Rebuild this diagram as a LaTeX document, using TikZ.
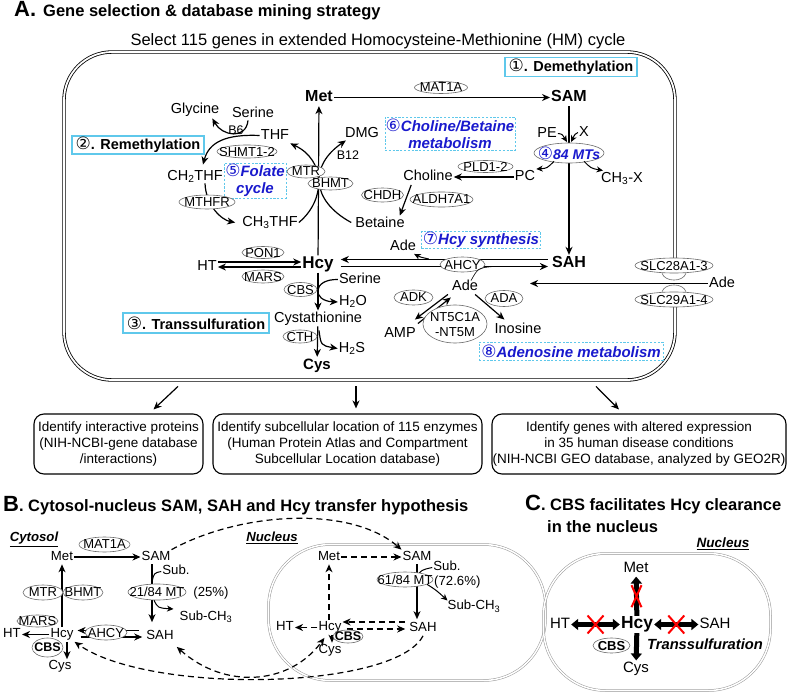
\documentclass[tikz,border=0pt]{standalone}
\usepackage{fontspec}
\setmainfont{Liberation Sans}
\newfontfamily\djvfont{DejaVu Sans}
\usetikzlibrary{arrows.meta,shapes.geometric,calc}
\definecolor{cyanb}{RGB}{95,200,235}
\definecolor{bluet}{RGB}{25,25,205}
\definecolor{ellg}{RGB}{105,105,105}
\definecolor{nucg}{RGB}{150,150,150}
\newcommand\fsz[1]{\fontsize{#1}{#1}\selectfont}
\newcommand\ezt[1]{\makebox[0pt]{\smash{\raisebox{-.5\height}{#1}}}}
\newcommand\circd[1]{{\djvfont\fontsize{17}{17}\selectfont\mdseries\upshape #1}}
\tikzset{
  myst/.tip={Stealth[length=8pt,width=7pt,inset=2.5pt]},
  smst/.tip={Stealth[length=6.5pt,width=6pt,inset=2pt]},
  tri/.tip={Triangle[length=7pt,width=11pt]},
  lab/.style={inner sep=1pt, font=\fsz{14.5}, text height=10.5pt, text depth=3pt},
  labs/.style={inner sep=1pt, font=\fsz{12.5}, text height=9pt, text depth=2.6pt},
  labb/.style={inner sep=1pt, font=\fsz{13.2}, text height=9.6pt, text depth=2.7pt},
  labc/.style={inner sep=1pt, font=\fsz{15}, text height=10.8pt, text depth=3pt},
  big/.style={inner sep=1pt, font=\fsz{16}\bfseries, text height=11.6pt, text depth=3.3pt},
  enz/.style={ellipse, draw=ellg, line width=0.6pt, fill=white, inner sep=0pt, font=\fsz{13}},
  secbox/.style={draw=cyanb, line width=1.1pt, font=\fsz{14.5}\bfseries, inner sep=0pt},
  dbox/.style={draw=cyanb, dash pattern=on 2.2pt off 1.6pt, line width=0.8pt, font=\fontsize{15}{17}\selectfont\bfseries\itshape, text=bluet, align=center, inner sep=0pt},
  obox/.style={draw, rounded corners=10pt, line width=1.1pt, align=center, font=\fontsize{13.5}{16}\selectfont, inner sep=0pt},
  nucl/.style={draw=nucg, double, double distance=1.5pt, line width=0.5pt, rounded corners=62pt, inner sep=0pt},
  arr/.style={-myst, line width=1.2pt},
  sarr/.style={-smst, line width=1pt},
  darr/.style={-myst, line width=1.2pt, dash pattern=on 6pt off 4pt},
  dbarr/.style={myst-myst, line width=1.2pt, dash pattern=on 6pt off 4pt},
  tarr/.style={-tri, line width=5pt},
  tbarr/.style={tri-tri, line width=5pt},
  xmark/.style={red, line width=2pt},
}
\begin{document}
\begin{tikzpicture}[x=1pt,y=-1pt]
\useasboundingbox (0,0) rectangle (788,693);

% ================= Panel A =================
\node[anchor=base west, inner sep=0pt] (titleA) at (14,17) {{\fsz{22}\bfseries A.}\hspace{7pt}{\fsz{16.5}\bfseries Gene selection \& database mining strategy}};
\node[anchor=base, inner sep=0pt, font=\fsz{16.5}] (selt) at (378,46) {Select 115 genes in extended Homocysteine-Methionine (HM) cycle};
\node[draw, double, double distance=1.8pt, line width=0.8pt, rounded corners=48pt, minimum width=611pt, minimum height=328pt, inner sep=0pt] (boxA) at (369.5,216) {};
\fill[white] (668,272) rectangle (682,292);

% section boxes
\node[secbox, minimum width=132pt, minimum height=19pt] (demeth) at (571,67) {\circd{①}. Demethylation};
\node[secbox, minimum width=132pt, minimum height=18pt] (remeth) at (138,145) {\circd{②}. Remethylation};
\node[secbox, minimum width=146pt, minimum height=20pt] (transs) at (196,323) {\circd{③}. Transsulfuration};
\node[dbox, minimum width=130pt, minimum height=33pt] (cholbox) at (450,133.5) {\circd{⑥}Choline/Betaine\\metabolism};
\node[dbox, minimum width=62pt, minimum height=35pt] (folbox) at (255,180.5) {\circd{⑤}Folate\\cycle};
\node[dbox, minimum width=119pt, minimum height=17pt] (hcybox) at (481,240) {\circd{⑦}Hcy synthesis};
\node[dbox, minimum width=184pt, minimum height=18pt] (adebox) at (571,351) {\circd{⑧}Adenosine metabolism};

% metabolites
\node[big] (met) at (319,97.5) {Met};
\node[big] (sam) at (569,97.5) {SAM};
\node[big, font=\fsz{17}\bfseries] (hcy) at (318,264) {Hcy};
\node[big] (sah) at (569,263.5) {SAH};
\node[big, font=\fsz{15}\bfseries] (cys) at (317,365.5) {Cys};
\node[lab] (glycine) at (195,109.5) {Glycine};
\node[lab] (serine) at (253,113.5) {Serine};
\node[labs] (b6) at (236,131.5) {B6};
\node[lab] (thf) at (275,135.5) {THF};
\node[lab] (ch2thf) at (195,176.5) {CH\textsubscript{2}THF};
\node[lab] (ch3thf) at (270,222.5) {CH\textsubscript{3}THF};
\node[lab] (dmg) at (362,133.5) {DMG};
\node[labs] (b12) at (348,156.5) {B12};
\node[lab] (choline) at (428,177) {Choline};
\node[lab] (pc) at (525,177) {PC};
\node[lab] (ch3x) at (622,178.5) {CH\textsubscript{3}-X};
\node[lab] (betaine) at (380,223.5) {Betaine};
\node[lab] (pe) at (547,133.5) {PE};
\node[lab] (xx) at (584,132.5) {X};
\node[lab] (ht) at (207,266.5) {HT};
\node[lab] (ade1) at (403,247) {Ade};
\node[lab] (ade2) at (465,286.5) {Ade};
\node[lab] (ade3) at (722,283.5) {Ade};
\node[lab] (amp) at (400,333.5) {AMP};
\node[lab] (inosine) at (518,329.5) {Inosine};
\node[lab] (serine2) at (360,279.5) {Serine};
\node[lab] (h2o) at (353,302) {H\textsubscript{2}O};
\node[lab] (cysta) at (318,318.5) {Cystathionine};
\node[lab] (h2s) at (352,348.5) {H\textsubscript{2}S};

% connectors A
\draw[arr] (met) -- (sam);
\draw[arr] (hcy) -- (met);
\draw[arr] (sam) -- (sah);
\draw[arr] (pc) -- (choline);
\draw[arr] ($(choline.south west)+(9,0)$) -- ($(betaine.north east)+(-6,0)$);
\draw[arr] (ch3thf.east) .. controls (326,200) and (326,160) .. (thf.south east);
\draw[arr] ($(betaine.west)+(-3,-1)$) .. controls (310,200) and (310,165) .. ($(dmg.south west)+(2,-1)$);
\draw[arr] ($(serine.south)+(-5,-1)$) .. controls (246,140) and (222,136) .. ($(glycine.south east)+(-8,1)$);
\draw[arr] (thf.west) .. controls (226,134) and (209,142) .. ($(ch2thf.north)+(8,-4)$);
\draw[arr] ($(ch2thf.south)+(10,-1)$) .. controls ($(ch2thf.south)+(11,22)$) and (222,220) .. ($(ch3thf.west)+(-6,0)$);
\draw[arr] ($(ht.east)+(0,-4.5)$) -- ($(hcy.west)+(0,-2)$);
\draw[arr] ($(hcy.west)+(0,3)$) -- ($(ht.east)+(0,0.5)$);
\draw[arr] ($(sah.west)+(-3,-4)$) -- ($(hcy.east)+(6,-4.5)$);
\draw[arr] ($(hcy.east)+(6,2.5)$) -- ($(sah.west)+(-3,3)$);
\coordinate (sahin) at (530,283.5);
\draw[arr] (ade3) -- (sahin);
\draw[arr] (hcy) -- (cysta);
\draw[arr] (cysta) -- (cys);
\draw[arr] (serine2.west) .. controls (312,279) and (312,301) .. (h2o.west);
\draw[arr] ($(cysta.south)+(1,4)$) .. controls ($(cysta.south)+(3,19)$) .. (h2s.west);
\draw[sarr] (pe.east) .. controls (562,134) .. (567,142);
\draw[sarr] (xx.west) .. controls (575,134) .. (571,142);
\draw[arr] ($(ade2.south west)+(-3,0)$) -- ($(amp.north east)+(-2,-6)$);
\draw[arr] ($(amp.north east)+(1,-2)$) -- ($(ade2.south west)+(0,3)$);
\draw[arr] ($(ade2.south east)+(-4,0)$) -- ($(inosine.north west)+(11,-2)$);

% enzymes A
\node[enz, minimum width=53pt, minimum height=12pt] (mat1a) at (441,87.5) {\ezt{MAT1A}};
\node[enz, minimum width=60pt, minimum height=13pt] (shmt) at (247,151.5) {\ezt{SHMT1-2}};
\node[enz, minimum width=38pt, minimum height=13pt] (mtr) at (306,171.5) {\ezt{MTR}};
\node[enz, minimum width=45pt, minimum height=13pt] (bhmt) at (330.5,183.5) {\ezt{BHMT}};
\node[enz, minimum width=56pt, minimum height=14pt] (mthfr) at (207,202) {\ezt{MTHFR}};
\node[enz, minimum width=55pt, minimum height=12pt] (pld) at (485.5,166.5) {\ezt{PLD1-2}};
\node[enz, minimum width=42pt, minimum height=14pt] (chdh) at (382.5,195) {\ezt{CHDH}};
\node[enz, minimum width=63pt, minimum height=15pt] (aldh) at (441.5,199.5) {\ezt{ALDH7A1}};
\node[enz, minimum width=70pt, minimum height=20pt, font=\fsz{14}\bfseries\itshape, text=bluet] (mts) at (569,153) {\ezt{\circd{④}84 MTs}};
\node[enz, minimum width=45pt, minimum height=15pt] (ahcy) at (462.5,264.5) {\ezt{AHCY}};
\node[enz, minimum width=42pt, minimum height=12pt] (pon1) at (263,252.5) {\ezt{PON1}};
\node[enz, minimum width=42pt, minimum height=13pt] (mars) at (263,276.5) {\ezt{MARS}};
\node[enz, minimum width=33pt, minimum height=14pt] (cbs) at (300.5,289.5) {\ezt{CBS}};
\node[enz, minimum width=34pt, minimum height=13pt] (cth) at (300,336.5) {\ezt{CTH}};
\node[enz, minimum width=39pt, minimum height=15pt] (adk) at (413.5,297.5) {\ezt{ADK}};
\node[enz, minimum width=38pt, minimum height=16pt] (ada) at (504,298.5) {\ezt{ADA}};
\node[enz, minimum width=64pt, minimum height=38pt] (nt5) at (455,324) {\ezt{\shortstack{NT5C1A\\[3pt]-NT5M}}};
\node[enz, minimum width=78pt, minimum height=15pt] (slc28) at (674,265.5) {\ezt{SLC28A1-3}};
\node[enz, minimum width=78pt, minimum height=15pt] (slc29) at (674,299.5) {\ezt{SLC29A1-4}};

\draw[sarr] ($(mts.south)+(-15,-2)$) .. controls ($(mts.south)+(-22,5)$) .. (pc.north east);
\draw[sarr] ($(mts.south)+(15,-2)$) .. controls ($(mts.south)+(22,5)$) .. ($(ch3x.north west)+(3,0)$);
\draw[sarr] ($(ahcy.west)+(-11,-5.5)$) .. controls (420,257) .. ($(ade1.south east)+(-3,-1)$);
\draw[line width=0.6pt] ($(ahcy.east)+(8,2)$) .. controls (478,268) .. ($(ade2.north)+(6,2)$);
\draw[ellg, line width=0.6pt] ($(slc28.south)+(-12,0)$) .. controls ($(slc28.south)+(-9,9)$) and ($(slc28.south)+(9,9)$) .. ($(slc28.south)+(12,0)$);
\draw[ellg, line width=0.6pt] ($(slc29.north)+(-12,0)$) .. controls ($(slc29.north)+(-9,-9)$) and ($(slc29.north)+(9,-9)$) .. ($(slc29.north)+(12,0)$);

% result boxes
\node[obox, minimum width=169pt, minimum height=60pt] (b1) at (118.5,444) {Identify interactive proteins\\(NIH-NCBI-gene database\\/interactions)};
\node[obox, minimum width=269pt, minimum height=60pt] (b2) at (347.5,444) {Identify subcellular location of 115 enzymes\\(Human Protein Atlas and Compartment\\Subcellular Location database)};
\node[obox, minimum width=294pt, minimum height=60pt] (b3) at (639,444) {Identify genes with altered expression\\in 35 human disease conditions\\(NIH-NCBI GEO database, analyzed by GEO2R)};
\draw[arr] ($(boxA.south)+(-191.5,6)$) -- ($(b1.north)+(35,-4)$);
\draw[arr] ($(boxA.south)+(-13.5,6)$) -- ($(b2.north)+(8.5,-5)$);
\draw[arr] ($(boxA.south)+(226.5,6)$) -- ($(b3.north)+(-20,-4)$);

% ================= Panel B =================
\node[anchor=base west, inner sep=0pt] (titleB) at (3,511) {{\fsz{22}\bfseries B}{\fsz{16.5}\bfseries . Cytosol-nucleus SAM, SAH and Hcy transfer hypothesis}};
\node[labb, font=\fsz{13.2}\bfseries\itshape] (cytl) at (34,538.5) {\underline{Cytosol}};
\node[labb] (metB) at (62,557) {Met};
\node[labb] (samB) at (156,557) {SAM};
\node[labb] (subB) at (176,571.5) {Sub.};
\node[labb] (pct21) at (211,593.3) {(25\%)};
\node[labb] (subch3B) at (206,617) {Sub-CH\textsubscript{3}};
\node[labb] (sahB) at (160,636.5) {SAH};
\node[labb] (hcyB) at (62,634.5) {Hcy};
\node[labb] (htB) at (12,634.5) {HT};
\node[labb] (cysB) at (60,666.5) {Cys};

\node[nucl, minimum width=277pt, minimum height=136pt] (nucB) at (407,612.5) {};
\node[labb, font=\fsz{13.2}\bfseries\itshape] (nucl) at (272,538.5) {\underline{Nucleus}};
\node[labb] (metN) at (329,557) {Met};
\node[labb] (samN) at (417,557) {SAM};
\node[labb] (subN) at (447,567.5) {Sub.};
\node[labb, anchor=west] (pct61) at (433,582.5) {(72.6\%)};
\node[labb] (subch3N) at (474,606.5) {Sub-CH\textsubscript{3}};
\node[labb] (sahN) at (423,628.5) {SAH};
\node[labb] (hcyN) at (330,627.5) {Hcy};
\node[labb] (htN) at (285,627.5) {HT};
\node[labb] (cysN) at (330,650) {Cys};

% connectors B cytosol
\draw[arr] (metB) -- (samB);
\draw[arr] (hcyB) -- (metB);
\draw[arr] (hcyB) -- (htB);
\draw[arr] ($(sahB.west)+(-6,-6)$) -- ($(hcyB.east)+(3,-4)$);
\draw[arr] ($(hcyB.east)+(6,2.5)$) -- ($(sahB.west)+(-3,0.5)$);
\draw[arr] ($(hcyB.south)+(5,0)$) -- ($(cysB.north)+(7,0)$);
\draw[arr] ($(samB.south)+(-4,0)$) -- ($(sahB.north)+(-8,-7)$);
\draw[line width=1pt] (subB.west) .. controls (154,573) .. (152,582);
% connectors B nucleus
\draw[darr] (metN) -- (samN);
\draw[arr] ($(samN.south)+(0,0)$) -- ($(sahN.north)+(-6,-2)$);
\draw[line width=1pt] (subN.west) .. controls (421,570) .. (417,577);
\draw[darr] (hcyN) -- (htN);
\draw[darr] ($(sahN.west)+(-3,-6.5)$) -- ($(hcyN.east)+(0,-5.5)$);
\draw[darr] ($(hcyN.east)+(4,1.5)$) -- ($(sahN.west)+(-3,0.5)$);
\draw[darr] ($(hcyN.north)+(-1,0)$) -- (metN.south);
\draw[arr] ($(hcyN.south)+(2,0)$) -- ($(cysN.north)+(2,0)$);
% transfer curves
\draw[darr] (samB.north east) .. controls (240,512) and (350,505) .. (samN.north west);
\draw[darr] (sahN.south) .. controls (395,690) and (150,695) .. (hcyB.south east);
\draw[dbarr] ($(sahB.south east)+(2,3)$) .. controls (225,690) and (290,685) .. ($(hcyN.south west)+(7,3)$);

% enzymes B
\node[enz, minimum width=51pt, minimum height=15pt] (mat1aB) at (104.5,544.5) {\ezt{MAT1A}};
\node[enz, minimum width=40pt, minimum height=15pt] (mtrB) at (43,592.5) {\ezt{MTR}};
\node[enz, minimum width=40pt, minimum height=15pt] (bhmtB) at (83,592.5) {\ezt{BHMT}};
\node[enz, minimum width=41pt, minimum height=12pt] (marsB) at (37.5,621) {\ezt{MARS}};
\node[enz, minimum width=42pt, minimum height=15pt] (ahcyB) at (106,632.5) {\ezt{AHCY}};
\node[enz, minimum width=31pt, minimum height=19pt, font=\fsz{12.5}\bfseries] (cbsB) at (47.5,647.5) {\ezt{CBS}};
\node[enz, minimum width=58pt, minimum height=16pt] (mt21) at (157,592) {\ezt{21/84 MT}};
\node[enz, minimum width=56pt, minimum height=15pt] (mt61) at (405,579.5) {\ezt{61/84 MT}};
\node[enz, minimum width=30pt, minimum height=13pt, font=\fsz{12.5}\bfseries] (cbsN) at (348,636.5) {\ezt{CBS}};
\draw[sarr] ($(mt21.south)+(-3,0)$) .. controls (158,608) .. ($(subch3B.west)+(-5,-8)$);
\draw[sarr] ($(mt61.south)+(22,-3)$) .. controls (436,590) .. ($(subch3N.west)+(1,-6)$);

% ================= Panel C =================
\node[anchor=base west, inner sep=0pt] (titleC) at (525,510) {{\fsz{22}\bfseries C}{\fsz{16.5}\bfseries . CBS facilitates Hcy clearance}};
\node[anchor=base west, inner sep=0pt, font=\fsz{16.5}\bfseries] (titleC2) at (547,532) {in the nucleus};
\node[labb, font=\fsz{13.5}\bfseries\itshape] (nuclC) at (723,544.5) {\underline{Nucleus}};
\node[nucl, minimum width=227pt, minimum height=137pt] (nucC) at (657,622) {};
\node[labc] (metC) at (636,568.5) {Met};
\node[big, font=\fsz{17.4}\bfseries] (hcyC) at (637,624.5) {Hcy};
\node[labc] (htC) at (560,624.5) {HT};
\node[labc] (sahC) at (715,624.5) {SAH};
\node[labc] (cysC) at (636,668.5) {Cys};
\node[labc, font=\fsz{14.7}\bfseries\itshape] (transC) at (705,645.5) {Transsulfuration};
\node[enz, minimum width=37pt, minimum height=15pt, font=\fsz{13}\bfseries] (cbsC) at (611.5,645.5) {\ezt{CBS}};
\draw[tarr] (hcyC) -- (metC);
\draw[tbarr] (htC) -- (hcyC);
\draw[tbarr] (hcyC) -- (sahC);
\draw[tarr] (hcyC) -- (cysC);
\coordinate (x1) at ($(metC.south)!0.5!(hcyC.north)$);
\coordinate (x2) at ($(htC.east)!0.5!(hcyC.west)$);
\coordinate (x3) at ($(hcyC.east)!0.5!(sahC.west)$);
\draw[xmark] ($(x1)+(-5,-11)$) -- ($(x1)+(5,11)$) ($(x1)+(5,-11)$) -- ($(x1)+(-5,11)$);
\draw[xmark] ($(x2)+(-8,-9)$) -- ($(x2)+(8,9)$) ($(x2)+(8,-9)$) -- ($(x2)+(-8,9)$);
\draw[xmark] ($(x3)+(-8,-9)$) -- ($(x3)+(8,9)$) ($(x3)+(8,-9)$) -- ($(x3)+(-8,9)$);
\end{tikzpicture}
\end{document}
